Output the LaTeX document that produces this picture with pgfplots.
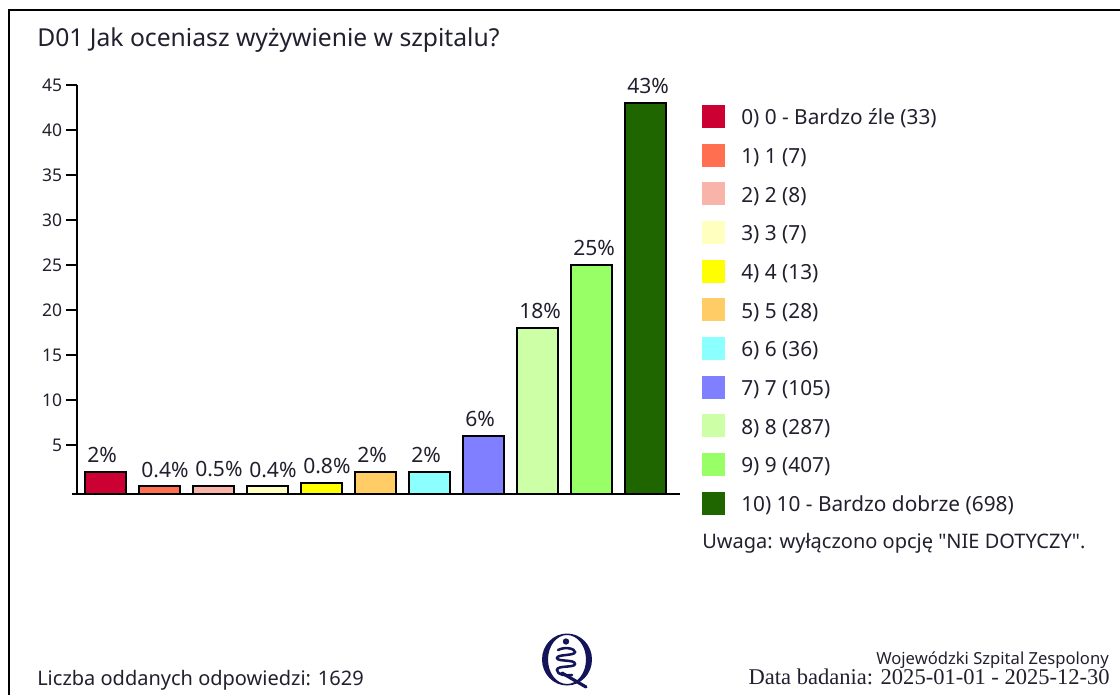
\documentclass[border=0pt]{standalone}
\usepackage{pgfplots}
\pgfplotsset{compat=1.18}
\usepackage{fontspec}
\setmainfont{Noto Sans}
\newfontfamily\nomap{Noto Sans}
\newfontfamily\seriffont{Liberation Serif}
\definecolor{txt}{HTML}{20202E}
\definecolor{navy}{HTML}{14145A}
\definecolor{c0}{HTML}{CC0033}
\definecolor{c1}{HTML}{FF6F50}
\definecolor{c2}{HTML}{F8B4A8}
\definecolor{c3}{HTML}{FFFFC0}
\definecolor{c4}{HTML}{FFFF00}
\definecolor{c5}{HTML}{FFCC66}
\definecolor{c6}{HTML}{8CFFFF}
\definecolor{c7}{HTML}{7F7FFF}
\definecolor{c8}{HTML}{CCFFA6}
\definecolor{c9}{HTML}{99FF66}
\definecolor{c10}{HTML}{1F6600}
\newcommand{\fs}{\fontsize{15pt}{18pt}\selectfont}
\newcommand{\ft}{\fontsize{13.1pt}{15pt}\selectfont}
\newcommand{\fl}{\fontsize{15.8pt}{18pt}\selectfont}
\newcommand{\fe}{\fontsize{15.6pt}{18pt}\selectfont}
\begin{document}
\begin{tikzpicture}[font=\fs,text=txt]
\path[use as bounding box] (0,0) rectangle (840pt,-521.25pt);
\begin{scope}[x=0.75pt,y=-0.75pt]
\clip (0,0) rectangle (1120,695);
\draw[black,line width=1.5pt] (1130,705) -- (9,705) -- (9,10) -- (1130,10);
\node[anchor=base west,inner sep=0pt,font=\fontsize{18.5pt}{22pt}\selectfont] at (37,47) {D01 Jak oceniasz wyżywienie w szpitalu?};
\node[anchor=base west,inner sep=0pt] at (702,548) {\nomap Uwaga: wyłączono opcję "NIE DOTYCZY".};
\node[anchor=base west,inner sep=0pt] at (37,685) {Liczba oddanych odpowiedzi: 1629};
\node[anchor=base east,inner sep=0pt,font=\fontsize{12.45pt}{14pt}\selectfont] at (1109,664) {Wojewódzki Szpital Zespolony};
\node[anchor=base east,inner sep=0pt,font=\seriffont\fontsize{16.9pt}{19pt}\selectfont] at (1110,684) {Data badania: 2025-01-01 - 2025-12-30};
% logo
\fill[navy,even odd rule] (567,659.5) ellipse (25 and 26) (567,659.5) ellipse (19 and 24.5);
\fill[navy] (566,641.5) circle (3.2);
\draw[navy,line width=1.9pt,line cap=round] (558,650) .. controls (566,646) and (575,649) .. (575,652) .. controls (575,656) and (557,654) .. (557,658) .. controls (557,662) and (575,659) .. (575,664) .. controls (575,668) and (557,665) .. (557,670) .. controls (557,675) and (566,676) .. (572,675);
\draw[navy,line width=2.4pt,line cap=round] (562,673) -- (586,687);
\end{scope}
\begin{axis}[
  at={(57.75pt,-370.275pt)},
  anchor=south west,
  scale only axis,
  width=452.25pt,height=306.5pt,
  xmin=-0.528,xmax=10.64,ymin=-0.41,ymax=45,
  y coord trafo/.code={\pgfmathparse{#1+0.41}},
  axis x line=bottom,axis y line=left,
  x axis line style={-,black,line width=1.5pt,shorten <=-3.75pt},
  y axis line style={-,black,line width=1.5pt},
  xtick=\empty,
  ytick={5,10,15,20,25,30,35,40,45},
  yticklabels={5,10,15,20,25,30,35,40,45},
  tick align=outside,
  major tick length=8.25pt,
  tick style={black,line width=1pt},
  ticklabel style={font=\ft,text=txt},
  yticklabel style={inner sep=0pt,xshift=-2.7pt},
  /pgf/number format/assume math mode=true,
  ybar,
  bar width=31.1pt,
  point meta=explicit symbolic,
  nodes near coords,
  nodes near coords align={anchor=base west},
  every node near coord/.append style={font=\fl,text=txt,inner sep=0pt,xshift=-14.4pt,yshift=7pt},
  every axis plot/.append style={bar shift=0pt,draw=black,line width=1.5pt},
  every axis plot post/.append style={legend image code/.code={\path[##1,draw=none] (0pt,-5.2pt) rectangle (17.25pt,12pt);}},
  legend cell align=left,
  legend style={at={(axis description cs:1.0365,0.952)},anchor=north west,draw=none,fill=none,inner sep=0pt,
    row sep=7.9pt,column sep=12pt,
    nodes={inner sep=0pt,text height=12pt,text depth=6.2pt,font=\fe,text=txt}},
  clip=false,
]
\addplot[fill=c0] coordinates {(0,2) [2\%]};
\addplot[fill=c1] coordinates {(1,0.4) [0.4\%]};
\addplot[fill=c2] coordinates {(2,0.5) [0.5\%]};
\addplot[fill=c3] coordinates {(3,0.4) [0.4\%]};
\addplot[fill=c4] coordinates {(4,0.8) [0.8\%]};
\addplot[fill=c5] coordinates {(5,2) [2\%]};
\addplot[fill=c6] coordinates {(6,2) [2\%]};
\addplot[fill=c7] coordinates {(7,6) [6\%]};
\addplot[fill=c8] coordinates {(8,18) [18\%]};
\addplot[fill=c9] coordinates {(9,25) [25\%]};
\addplot[fill=c10] coordinates {(10,43) [43\%]};
\legend{0) 0 - Bardzo źle (33),1) 1 (7),2) 2 (8),3) 3 (7),4) 4 (13),5) 5 (28),6) 6 (36),7) 7 (105),8) 8 (287),9) 9 (407),10) 10 - Bardzo dobrze (698)}
\end{axis}
\end{tikzpicture}
\end{document}
